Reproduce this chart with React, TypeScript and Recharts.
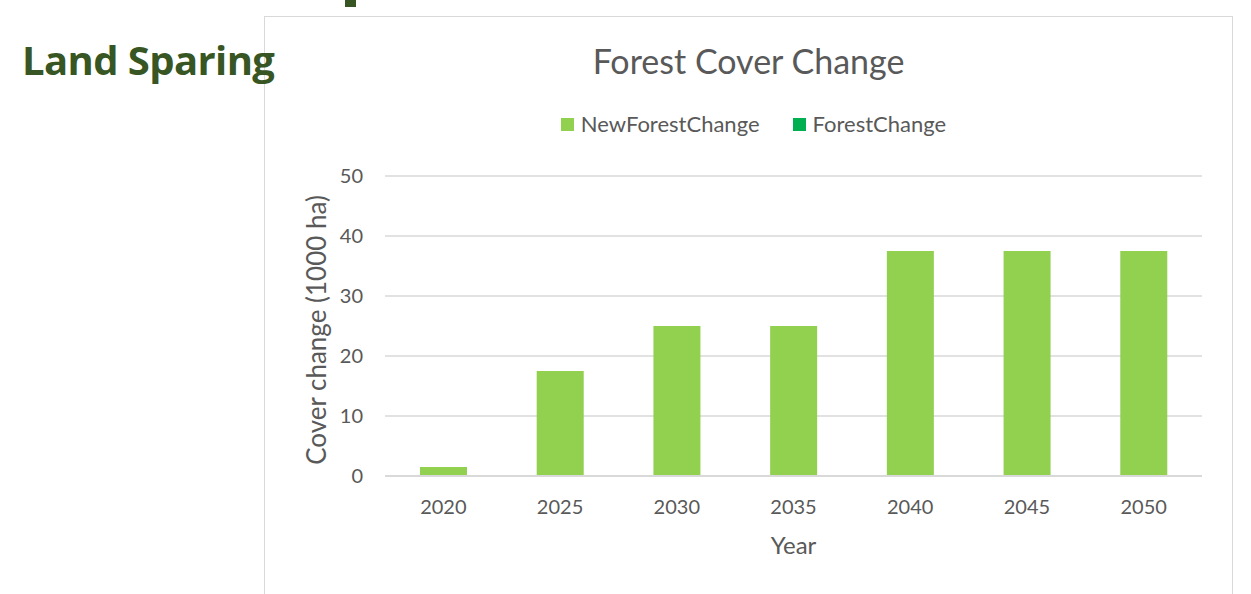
import React from "react";
import { BarChart, Bar, XAxis, YAxis, CartesianGrid, Legend } from "recharts";

const years = ["2020", "2025", "2030", "2035", "2040", "2045", "2050"];
const newForestChange = [1.5, 17.5, 25, 25, 37.5, 37.5, 37.5];
const forestChange = [0, 0, 0, 0, 0, 0, 0];
const yTicks = [0, 10, 20, 30, 40, 50];
const seriesOrder = ["NewForestChange", "ForestChange"];

const COLORS = { newForest: "#92D050", forest: "#00B050" };
const FONT = "Lato, 'Open Sans', sans-serif";
const TEXT = "#595959";

const data = years.map((year, i) => ({
	year,
	NewForestChange: newForestChange[i],
	ForestChange: forestChange[i],
}));

const LegendContent = (props: any) => {
	const items = [...(props.payload || [])].sort(
		(a: any, b: any) => seriesOrder.indexOf(a.dataKey) - seriesOrder.indexOf(b.dataKey)
	);
	return (
		<div style={{ display: "flex", justifyContent: "center", paddingLeft: 10, height: 26, lineHeight: "26px", fontFamily: FONT, fontSize: 22, color: TEXT }}>
			{items.map((it: any, i: number) => (
				<div key={i} style={{ display: "flex", alignItems: "center", marginRight: i === 0 ? 33 : 0 }}>
					<span style={{ width: 13, height: 13, background: it.color, display: "inline-block", marginRight: 7 }} />
					<span>{it.value}</span>
				</div>
			))}
		</div>
	);
};

const YLabel = (props: any) => {
	const { viewBox } = props;
	const cx = viewBox.x + 51;
	const cy = viewBox.y + viewBox.height / 2 + 4;
	return (
		<text x={cx} y={cy} transform={`rotate(-90, ${cx}, ${cy})`} textAnchor="middle" dominantBaseline="central" fill={TEXT} fontSize={26} fontFamily={FONT}>
			Cover change (1000 ha)
		</text>
	);
};

export default function App() {
	return (
		<div style={{ position: "absolute", left: 0, top: 0, width: 1251, height: 594, background: "#fff", overflow: "hidden" }}>
			<div style={{ position: "absolute", left: 345, top: 0, width: 11, height: 7, background: "#375623" }} />
			<div style={{ position: "absolute", left: 264, top: 16, width: 967, height: 590, border: "1px solid #D9D9D9", background: "#fff" }}>
				<div style={{ position: "absolute", left: 0, top: 23, width: 967, textAlign: "center", fontFamily: FONT, fontSize: 34, color: TEXT }}>
					Forest Cover Change
				</div>
				<BarChart width={967} height={578} data={data} margin={{ top: 133, right: 30, left: 0, bottom: 59 }} style={{ fontFamily: FONT }}>
					<CartesianGrid vertical={false} stroke="#D9D9D9" strokeWidth={1.5} />
					<XAxis
						dataKey="year"
						height={60}
						axisLine={{ stroke: "#D9D9D9", strokeWidth: 2 }}
						tickLine={false}
						tickSize={0}
						tickMargin={24}
						tick={{ fill: TEXT, fontSize: 20 }}
						label={{ value: "Year", position: "bottom", offset: 1, fill: TEXT, fontSize: 24 }}
					/>
					<YAxis
						width={120}
						domain={[0, 50]}
						ticks={yTicks}
						axisLine={false}
						tickLine={false}
						tickSize={0}
						tickMargin={22}
						tick={{ fill: TEXT, fontSize: 20 }}
						label={<YLabel />}
					/>
					<Legend verticalAlign="top" content={<LegendContent />} wrapperStyle={{ top: 94, left: 0, width: 967 }} />
					<Bar dataKey="NewForestChange" stackId="a" fill={COLORS.newForest} barSize={47} isAnimationActive={false} />
					<Bar dataKey="ForestChange" stackId="a" fill={COLORS.forest} barSize={47} isAnimationActive={false} />
				</BarChart>
			</div>
			<div style={{ position: "absolute", left: 22, top: 40, lineHeight: 1, fontFamily: "'Open Sans', Lato, sans-serif", fontWeight: 700, fontSize: 40, color: "#375623", letterSpacing: -0.6 }}>
				Land Sparing
			</div>
		</div>
	);
}
